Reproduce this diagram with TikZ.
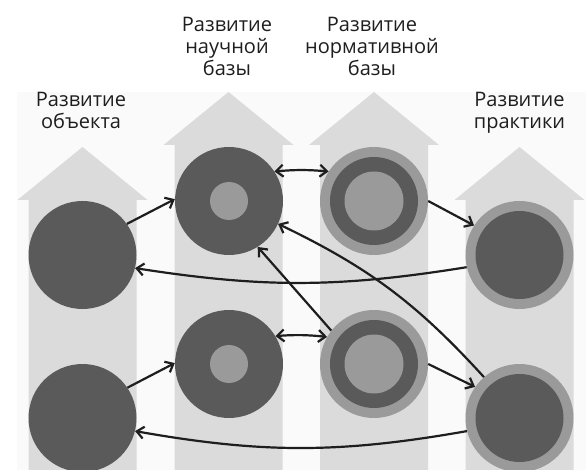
\documentclass[tikz,border=0pt]{standalone}
\usepackage{fontspec}
\setmainfont{Open Sans}
\usetikzlibrary{arrows.meta}
\definecolor{dark}{HTML}{5A5A5A}
\definecolor{mid}{HTML}{9A9A9A}
\definecolor{pale}{HTML}{DBDBDB}
\definecolor{bg}{HTML}{FAFAFA}
\definecolor{ink}{HTML}{1E1E1E}
\begin{document}
\begin{tikzpicture}[x=1pt,y=-1pt,
        lbl/.style={align=center,anchor=base,inner sep=0pt,text=ink,font=\fontsize{20}{22}\selectfont},
        obj/.style={circle,fill=dark,minimum size=108pt,inner sep=0pt},
        sci/.style={obj,path picture={\fill[mid] (path picture bounding box.center) circle (19pt);}},
        prac/.style={obj,fill=mid,path picture={\fill[dark] (path picture bounding box.center) circle (44pt);}},
        norm/.style={prac,path picture={\fill[dark] (path picture bounding box.center) circle (44pt);
            \fill[mid] (path picture bounding box.center) circle (29.5pt);}},
        con/.style={draw=ink,line width=2.2pt,>={Straight Barb[length=7pt,width=12pt]}}]
    \fill[white] (0,0) rectangle (586,470);
    \useasboundingbox (0,0) rectangle (586,470);
    \fill[bg] (17,92) rectangle (586,470);

    \foreach \c/\t in {82.5/147,228.5/92,374/92,519.5/147}
        \fill[pale] (\c-54,470) -- (\c-54,\t+53) -- (\c-65,\t+53) -- (\c,\t)
            -- (\c+65,\t+53) -- (\c+54,\t+53) -- (\c+54,470) -- cycle;

    \node[lbl] (lobj) at (81,129) {Развитие\\объекта};
    \node[lbl] (lsci) at (227,76) {Развитие\\научной\\базы};
    \node[lbl] (lnorm) at (372,76) {Развитие\\нормативной\\базы};
    \node[lbl] (lprac) at (519.5,129) {Развитие\\практики};

    \node[obj] (o1) at (82.5,255) {};
    \node[obj] (o2) at (82.5,418) {};
    \node[sci] (s1) at (229,201) {};
    \node[sci] (s2) at (229,364) {};
    \node[norm] (n1) at (374,201) {};
    \node[norm] (n2) at (374,364) {};
    \node[prac] (p1) at (519.5,255) {};
    \node[prac] (p2) at (519.5,418) {};

    \draw[con,->] (o1.35) -- (s1.178);
    \draw[con,<->] (s1.33) to[bend left=5] (n1.147);
    \draw[con,->] (n1.0) -- (p1.147);
    \draw[con,->] (p1.193) to[bend left=9] (o1.346);
    \draw[con,->] (n2.142) -- (s1.-58);
    \draw[con,->] (p2.131) to[bend right=11] (s1.-25);
    \draw[con,->] (o2.34) -- (s2.179);
    \draw[con,<->] (s2.31) to[bend left=5] (n2.150);
    \draw[con,->] (n2.0) -- (p2.145);
    \draw[con,->] (p2.194) to[bend left=10] (o2.346);
\end{tikzpicture}
\end{document}
